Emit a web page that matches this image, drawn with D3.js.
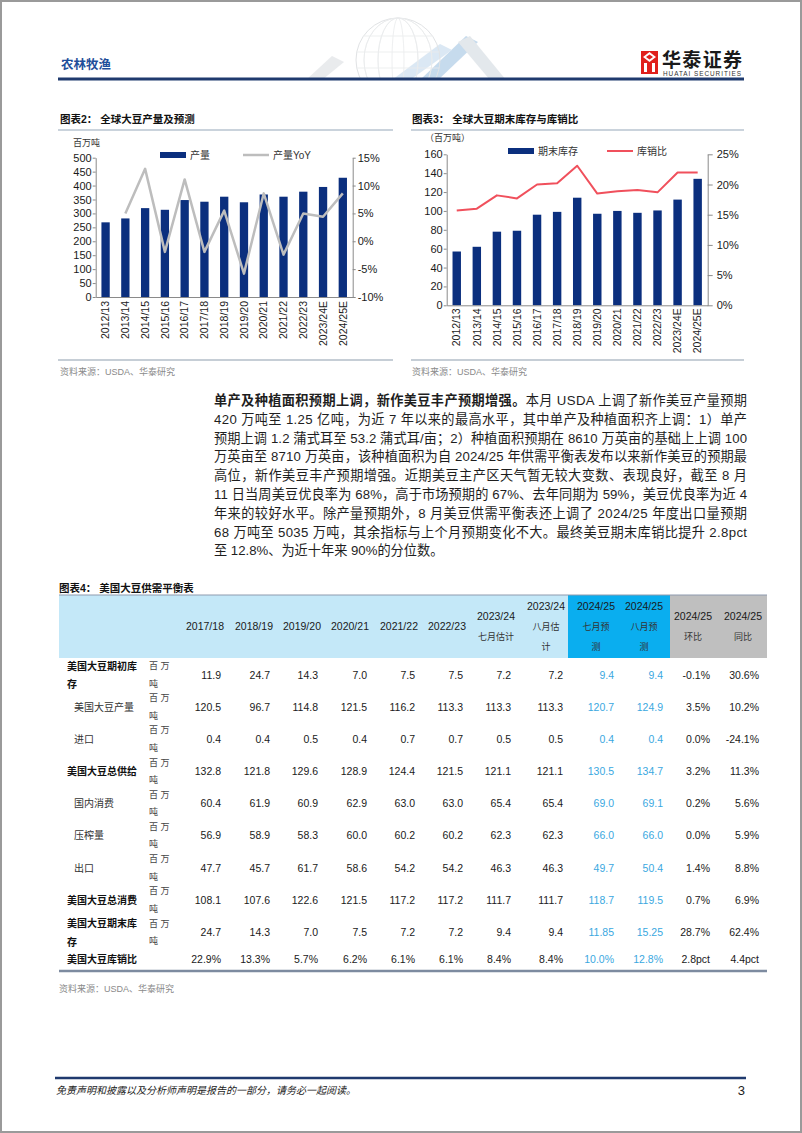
<!DOCTYPE html>
<html><head><meta charset="utf-8">
<script src="https://cdn.jsdelivr.net/npm/d3@7"></script>
<style>
body{margin:0;background:#fff}
svg{display:block}
text{font-family:"Liberation Sans","Noto Sans CJK SC",Arial,sans-serif}
</style>
</head><body>
<svg id="page" width="802" height="1133"></svg>
<script>
// ---------------- DATA ----------------
const seasons = ["2012/13","2013/14","2014/15","2015/16","2016/17","2017/18","2018/19","2019/20","2020/21","2021/22","2022/23","2023/24E","2024/25E"];
const production = [268,282,319,313,348,342,360,340,368,360,378,395,428];
const productionYoY = [null,5.0,13.0,-1.9,11.1,-1.9,5.5,-5.8,8.6,-2.4,5.0,4.4,8.6];
const endingStocks = [57,62,78,79,96,99,114,97,100,98,100.5,112,134];
const stockToUse = [15.7,16.0,18.2,17.7,20.0,20.2,23.1,18.5,18.9,19.1,18.7,22.0,22.0];
const prodTicks = [0,50,100,150,200,250,300,350,400,450,500];
const yoyTicks = [-10,-5,0,5,10,15];
const stockTicks = [0,20,40,60,80,100,120,140,160];
const ratioTicks = [0,5,10,15,20,25];

const tableHeader = [["2017/18"],["2018/19"],["2019/20"],["2020/21"],["2021/22"],["2022/23"],["2023/24","七月估计"],["2023/24","八月估","计"],["2024/25","七月预","测"],["2024/25","八月预","测"],["2024/25","环比"],["2024/25","同比"]];
const rowLabels = [["美国大豆期初库","存"],["美国大豆产量"],["进口"],["美国大豆总供给"],["国内消费"],["压榨量"],["出口"],["美国大豆总消费"],["美国大豆期末库","存"],["美国大豆库销比"]];
const rowBold = [true,false,false,true,false,false,false,true,true,true];
const rowUnit = ["百万吨","百万吨","百万吨","百万吨","百万吨","百万吨","百万吨","百万吨","百万吨",""];
const r1 = ["11.9","24.7","14.3","7.0","7.5","7.5","7.2","7.2","9.4","9.4","-0.1%","30.6%"];
const r2 = ["120.5","96.7","114.8","121.5","116.2","113.3","113.3","113.3","120.7","124.9","3.5%","10.2%"];
const r3 = ["0.4","0.4","0.5","0.4","0.7","0.7","0.5","0.5","0.4","0.4","0.0%","-24.1%"];
const r4 = ["132.8","121.8","129.6","128.9","124.4","121.5","121.1","121.1","130.5","134.7","3.2%","11.3%"];
const r5 = ["60.4","61.9","60.9","62.9","63.0","63.0","65.4","65.4","69.0","69.1","0.2%","5.6%"];
const r6 = ["56.9","58.9","58.3","60.0","60.2","60.2","62.3","62.3","66.0","66.0","0.0%","5.9%"];
const r7 = ["47.7","45.7","61.7","58.6","54.2","54.2","46.3","46.3","49.7","50.4","1.4%","8.8%"];
const r8 = ["108.1","107.6","122.6","121.5","117.2","117.2","111.7","111.7","118.7","119.5","0.7%","6.9%"];
const r9 = ["24.7","14.3","7.0","7.5","7.2","7.2","9.4","9.4","11.85","15.25","28.7%","62.4%"];
const r10 = ["22.9%","13.3%","5.7%","6.2%","6.1%","6.1%","8.4%","8.4%","10.0%","12.8%","2.8pct","4.4pct"];
const tableRows = [r1,r2,r3,r4,r5,r6,r7,r8,r9,r10];

const paraLines = [
  [["单产及种植面积预期上调，新作美豆丰产预期增强。",true],["本月 USDA 上调了新作美豆产量预期",false]],
  [["420 万吨至 1.25 亿吨，为近 7 年以来的最高水平，其中单产及种植面积齐上调：1）单产",false]],
  [["预期上调 1.2 蒲式耳至 53.2 蒲式耳/亩；2）种植面积预期在 8610 万英亩的基础上上调 100",false]],
  [["万英亩至 8710 万英亩，该种植面积为自 2024/25 年供需平衡表发布以来新作美豆的预期最",false]],
  [["高位，新作美豆丰产预期增强。近期美豆主产区天气暂无较大变数、表现良好，截至 8 月",false]],
  [["11 日当周美豆优良率为 68%，高于市场预期的 67%、去年同期为 59%，美豆优良率为近 4",false]],
  [["年来的较好水平。除产量预期外，8 月美豆供需平衡表还上调了 2024/25 年度出口量预期",false]],
  [["68 万吨至 5035 万吨，其余指标与上个月预期变化不大。最终美豆期末库销比提升 2.8pct",false]],
  [["至 12.8%、为近十年来 90%的分位数。",false]]
];

// ---------------- PAGE ----------------
const svg = d3.select("#page");
const CJK = "'Noto Sans CJK SC','Liberation Sans',sans-serif";
svg.append("rect").attr("x",1).attr("y",1).attr("width",800).attr("height",1131)
  .attr("fill","#fff").attr("stroke","#9a9a9a").attr("stroke-width",2);

// header decoration (globe + chevrons)
const deco = svg.append("g").attr("opacity",0.5);
deco.append("polygon").attr("points","306,80 332,56 344,62 322,80").attr("fill","#d4d8dc");
deco.append("polygon").attr("points","420,80 466,36 478,42 438,80").attr("fill","#8fb8dc");
deco.append("polygon").attr("points","458,42 470,36 506,80 490,80").attr("fill","#c9d2da");
deco.append("polygon").attr("points","392,80 440,44 452,50 410,80").attr("fill","#b9d3ea");
const gc = deco.append("g");
gc.append("circle").attr("cx",398).attr("cy",60).attr("r",42).attr("fill","none").attr("stroke","#c4c8cc").attr("stroke-width",1);
[-28,-14,0,14,28].forEach(o=>gc.append("ellipse").attr("cx",398).attr("cy",60).attr("rx",Math.abs(o)+6).attr("ry",42).attr("fill","none").attr("stroke","#d6d9dc").attr("stroke-width",0.8));
[-24,-8,8,24].forEach(o=>gc.append("line").attr("x1",398-Math.sqrt(42*42-o*o)).attr("x2",398+Math.sqrt(42*42-o*o)).attr("y1",60+o).attr("y2",60+o).attr("stroke","#d6d9dc").attr("stroke-width",0.8));
svg.append("rect").attr("x",300).attr("y",80).attr("width",220).attr("height",30).attr("fill","#fff");

svg.append("text").attr("x",61).attr("y",69).text("农林牧渔")
  .attr("font-family",CJK).attr("font-size",12.5).attr("font-weight","bold").attr("fill","#1f4e9a");
svg.append("line").attr("x1",58).attr("x2",744).attr("y1",79).attr("y2",79).attr("stroke","#1f3a6e").attr("stroke-width",3);

// logo
const logo = svg.append("g");
logo.append("rect").attr("x",641).attr("y",51).attr("width",17).attr("height",23).attr("fill","#e0201c");
logo.append("path").attr("d","M643,57 L649.5,52 L656,57 L649.5,62 Z").attr("fill","#fff");
logo.append("path").attr("d","M644,72 L644,63 L647,63 L647,72 M652,72 L652,63 L655,63 L655,72").attr("fill","#fff");
logo.append("path").attr("d","M646,57 L649.5,54.5 L653,57 L649.5,59.5 Z").attr("fill","#e0201c");
svg.append("text").attr("x",662).attr("y",67).text("华泰证券").attr("font-family",CJK)
  .attr("font-size",19).attr("font-weight","bold").attr("fill","#1a1a1a").attr("textLength",80);
svg.append("text").attr("x",663).attr("y",75.5).text("HUATAI SECURITIES").attr("font-size",6.4)
  .attr("fill","#333").attr("textLength",78);

// ---------------- CHARTS ----------------
function styleAxis(g, fs){
  g.select(".domain").attr("stroke","#8a8a8a");
  g.selectAll(".tick line").attr("stroke","#8a8a8a");
  g.selectAll(".tick text").attr("font-size",fs).attr("fill","#1a1a1a").attr("font-family","'Liberation Sans',Arial,sans-serif");
}
function drawChart(o){
  const g = svg.append("g");
  g.append("text").attr("x",o.titleX).attr("y",o.titleY).text(o.title)
    .attr("font-family",CJK).attr("font-size",10.5).attr("font-weight","bold").attr("fill","#111");
  g.append("line").attr("x1",o.ulX0).attr("x2",o.ulX1).attr("y1",o.titleY+7).attr("y2",o.titleY+7)
    .attr("stroke","#b8c4d0").attr("stroke-width",1.5);
  const x = d3.scaleBand().domain(seasons).range([o.x0,o.x1]).paddingInner(0.58).paddingOuter(0.29);
  const yL = d3.scaleLinear().domain([o.leftTicks[0],o.leftTicks[o.leftTicks.length-1]]).range([o.yB,o.yT]);
  const yR = d3.scaleLinear().domain([o.rightTicks[0],o.rightTicks[o.rightTicks.length-1]]).range([o.yB,o.yT]);
  g.append("g").selectAll("rect").data(o.bars).join("rect")
    .attr("x",(d,i)=>x(seasons[i])).attr("y",d=>yL(d)).attr("width",x.bandwidth())
    .attr("height",d=>yL(o.leftTicks[0])-yL(d)).attr("fill","#0b2f7e");
  const line = d3.line().defined(d=>d!=null).x((d,i)=>x(seasons[i])+x.bandwidth()/2).y(d=>yR(d));
  g.append("path").datum(o.line).attr("d",line).attr("fill","none").attr("stroke",o.lineColor)
    .attr("stroke-width",o.lineWidth).attr("stroke-linejoin","round");
  const ax = g.append("g").attr("transform",`translate(0,${o.yB})`)
    .call(d3.axisBottom(x).tickSize(0).tickPadding(0));
  styleAxis(ax,10.5);
  ax.selectAll(".tick text").attr("transform","rotate(-90)").attr("text-anchor","end")
    .attr("x",-o.xLabPad).attr("y",0).attr("dy","0.35em");
  const al = g.append("g").attr("transform",`translate(${o.x0},0)`)
    .call(d3.axisLeft(yL).tickValues(o.leftTicks).tickSizeInner(o.tickL).tickSizeOuter(0).tickPadding(o.padL));
  styleAxis(al,11);
  const ar = g.append("g").attr("transform",`translate(${o.x1},0)`)
    .call(d3.axisRight(yR).tickValues(o.rightTicks).tickSizeInner(o.tickR).tickSizeOuter(0).tickPadding(o.padR).tickFormat(d=>d+"%"));
  styleAxis(ar,11);
  // unit
  g.append("text").attr("x",o.unitX).attr("y",o.unitY).text(o.unit).attr("font-family",CJK)
    .attr("font-size",9).attr("fill","#333");
  // legend
  const lg = g.append("g");
  lg.append("rect").attr("x",o.lg[0]).attr("y",o.lgY-3).attr("width",26).attr("height",6).attr("fill","#0b2f7e");
  lg.append("text").attr("x",o.lg[0]+30).attr("y",o.lgY).attr("dy","0.35em").text(o.barName)
    .attr("font-family",CJK).attr("font-size",10).attr("fill","#333");
  lg.append("line").attr("x1",o.lg[1]).attr("x2",o.lg[1]+26).attr("y1",o.lgY).attr("y2",o.lgY)
    .attr("stroke",o.lineColor).attr("stroke-width",o.lineWidth);
  lg.append("text").attr("x",o.lg[1]+30).attr("y",o.lgY).attr("dy","0.35em").text(o.lineName)
    .attr("font-family",CJK).attr("font-size",10).attr("fill","#333");
  // source
  g.append("line").attr("x1",o.ulX0).attr("x2",o.ulX1).attr("y1",o.srcY).attr("y2",o.srcY)
    .attr("stroke","#c6ced6").attr("stroke-width",2);
  g.append("text").attr("x",o.titleX).attr("y",o.srcY+15).text("资料来源：USDA、华泰研究")
    .attr("font-family",CJK).attr("font-size",9).attr("fill","#8a8a8a");
}
drawChart({title:"图表2：  全球大豆产量及预测",titleX:60,titleY:123,ulX0:58,ulX1:393,
  x0:95.7,x1:352.7,yT:157.7,yB:297,leftTicks:prodTicks,rightTicks:yoyTicks,bars:production,line:productionYoY,
  lineColor:"#bdbdbd",lineWidth:2.5,tickL:3,padL:1,tickR:3,padR:2,xLabPad:4,
  unit:"百万吨",unitX:73,unitY:146,lg:[160,243],lgY:155,barName:"产量",lineName:"产量YoY",srcY:360});
drawChart({title:"图表3：  全球大豆期末库存与库销比",titleX:412,titleY:123,ulX0:411,ulX1:744,
  x0:446.7,x1:707.7,yT:154.3,yB:305.3,leftTicks:stockTicks,rightTicks:ratioTicks,bars:endingStocks,line:stockToUse,
  lineColor:"#f0505c",lineWidth:2,tickL:3,padL:1,tickR:5,padR:4,xLabPad:3,
  unit:"（百万吨）",unitX:425,unitY:141,lg:[508,607],lgY:151,barName:"期末库存",lineName:"库销比",srcY:360});

// ---------------- PARAGRAPH ----------------
const pX = 214, pW = 533, pY0 = 405, pLH = 18.8;
paraLines.forEach((segs,i)=>{
  const t = svg.append("text").attr("x",pX).attr("y",pY0+i*pLH).attr("font-size",13.2).attr("fill","#1e1e1e");
  segs.forEach(s=>t.append("tspan").text(s[0]).attr("font-weight",s[1]?"bold":"normal"));
  if(i<paraLines.length-1){
    const n = segs.map(s=>s[0]).join("").length;
    const w = t.node().getComputedTextLength();
    t.attr("letter-spacing",(pW-w)/(n-1));
  }
});

// ---------------- TABLE ----------------
const tb = svg.append("g");
tb.append("text").attr("x",59).attr("y",592).text("图表4：  美国大豆供需平衡表").attr("font-family",CJK)
  .attr("font-size",10.5).attr("font-weight","bold").attr("fill","#111");
const hTop = 595, hBot = 658;
tb.append("rect").attr("x",59).attr("y",hTop).attr("width",509).attr("height",hBot-hTop).attr("fill","#c4e8f8");
tb.append("rect").attr("x",568).attr("y",hTop).attr("width",102).attr("height",hBot-hTop).attr("fill","#0aaeef");
tb.append("rect").attr("x",670).attr("y",hTop).attr("width",97).attr("height",hBot-hTop).attr("fill","#bfbfbf");
tb.append("line").attr("x1",59).attr("x2",767).attr("y1",hTop).attr("y2",hTop).attr("stroke","#8e9aae").attr("stroke-width",1);
const colCenter = [205,254,302,350,399,447,496,546,596,644,693,743];
const colRight = [221,270,318,367,415,463,511,563,614,663,710,759];
const hMid = (hTop+hBot)/2, hLH = 20.5;
tableHeader.forEach((lines,c)=>{
  lines.forEach((s,k)=>{
    const isNum = /\d/.test(s);
    tb.append("text").attr("x",colCenter[c]).attr("y",hMid+(k-(lines.length-1)/2)*hLH).attr("dy","0.35em")
      .attr("text-anchor","middle").text(s)
      .attr("font-family",isNum?"'Liberation Sans',Arial,sans-serif":CJK)
      .attr("font-size",isNum?10.5:9).attr("fill",isNum?"#1a1a1a":"#333");
  });
});
const rowY = [675,707,739,771.5,803.5,835.5,868,900,932.5,959];
tableRows.forEach((row,r)=>{
  const y = rowY[r];
  const lab = rowLabels[r];
  lab.forEach((s,k)=>{
    tb.append("text").attr("x",rowBold[r]?67:74).attr("y",lab.length>1?(k===0?y-9:y+9.5):y).attr("dy","0.35em")
      .text(s).attr("font-family",CJK).attr("font-size",10).attr("font-weight",rowBold[r]?"bold":"normal")
      .attr("fill",rowBold[r]?"#111":"#333");
  });
  if(rowUnit[r]){
    const u = rowUnit[r];
    tb.append("text").attr("x",149).attr("y",y-9).attr("dy","0.35em").text(u[0]+"  "+u[1])
      .attr("font-family",CJK).attr("font-size",9).attr("fill","#444");
    tb.append("text").attr("x",149).attr("y",y+8.5).attr("dy","0.35em").text(u[2])
      .attr("font-family",CJK).attr("font-size",9).attr("fill","#444");
  }
  row.forEach((v,c)=>{
    tb.append("text").attr("x",colRight[c]).attr("y",y).attr("dy","0.35em").attr("text-anchor","end").text(v)
      .attr("font-size",10.5).attr("fill",(c===8||c===9)?"#3aa8df":"#1a1a1a");
  });
});
tb.append("line").attr("x1",59).attr("x2",767).attr("y1",971).attr("y2",971).attr("stroke","#7d8ba0").attr("stroke-width",2.5);
tb.append("text").attr("x",59).attr("y",992).text("资料来源：USDA、华泰研究")
  .attr("font-family",CJK).attr("font-size",9).attr("fill","#8a8a8a");

// ---------------- FOOTER ----------------
svg.append("line").attr("x1",55).attr("x2",746).attr("y1",1078).attr("y2",1078).attr("stroke","#1f3a6e").attr("stroke-width",2.5);
svg.append("text").attr("x",56).attr("y",1094).text("免责声明和披露以及分析师声明是报告的一部分，请务必一起阅读。")
  .attr("font-family",CJK).attr("font-size",10).attr("font-style","italic").attr("fill","#222");
svg.append("text").attr("x",745).attr("y",1095).attr("text-anchor","end").text("3").attr("font-size",13).attr("fill","#222");
</script>
</body></html>
